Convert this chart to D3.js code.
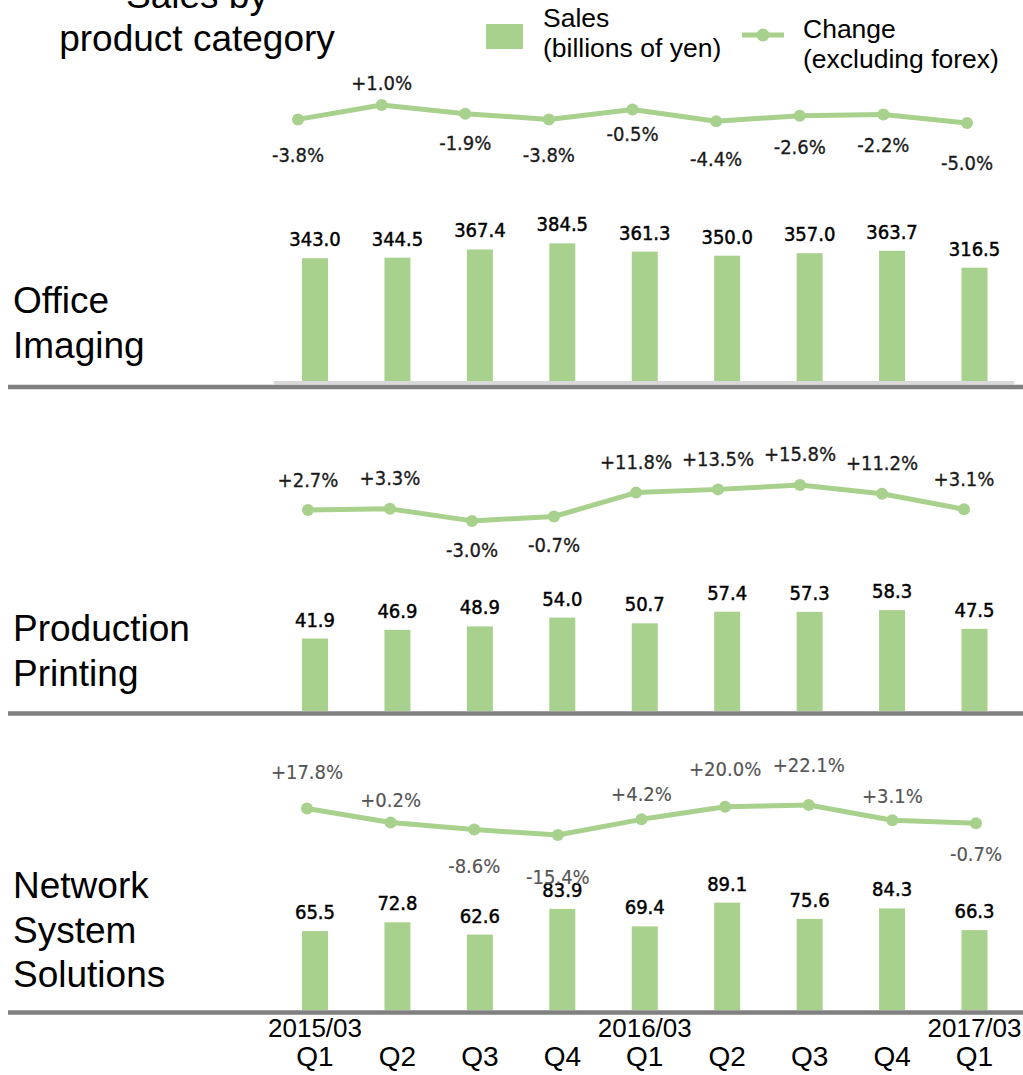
<!DOCTYPE html>
<html><head><meta charset="utf-8">
<script src="https://cdn.jsdelivr.net/npm/d3@7"></script>
<style>body{margin:0;background:#fff} svg{display:block}</style>
</head><body>
<svg id="chart" width="1023" height="1075"></svg>
<script>
// ---- data ----
const quarters = ["Q1","Q2","Q3","Q4","Q1","Q2","Q3","Q4","Q1"];
const fiscalYears = ["2015/03","","","","2016/03","","","","2017/03"];
const titleLines = ["Sales by","product category"];
const legendSales = ["Sales","(billions of yen)"];
const legendChange = ["Change","(excluding forex)"];
const officeName = ["Office","Imaging"];
const productionName = ["Production","Printing"];
const networkName = ["Network","System","Solutions"];
const officeSales = [343.0,344.5,367.4,384.5,361.3,350.0,357.0,363.7,316.5];
const officeChange = [-3.8,1.0,-1.9,-3.8,-0.5,-4.4,-2.6,-2.2,-5.0];
const productionSales = [41.9,46.9,48.9,54.0,50.7,57.4,57.3,58.3,47.5];
const productionChange = [2.7,3.3,-3.0,-0.7,11.8,13.5,15.8,11.2,3.1];
const networkSales = [65.5,72.8,62.6,83.9,69.4,89.1,75.6,84.3,66.3];
const networkChange = [17.8,0.2,-8.6,-15.4,4.2,20.0,22.1,3.1,-0.7];
const officeLabelSide = ["below","above","below","below","below","below","below","below","below"];
const productionLabelSide = ["above","above","below","below","above","above","above","above","above"];
const networkLabelSide = ["above","above","below","below","above","above","above","above","below"];

// ---- layout ----
const GREEN = "#a9d18e";
const svg = d3.select("#chart");
const idx = d3.range(quarters.length);
const xBar = d3.scalePoint().domain(idx).range([315, 974.5]);
const barW = 26;
const sansFont = "'Liberation Sans', Arial, sans-serif";
const labFont = "'DejaVu Sans Condensed', 'Liberation Sans Narrow', sans-serif";

const panels = [
  {name: officeName, sales: officeSales, change: officeChange, side: officeLabelSide,
   base: 381, barDom: 400, barTop: 381 - 400*0.358,
   lineDom: [-6, 2], lineRange: [126, 102], lineX: [298, 967],
   gapA: 12, gapB: 30, spread: 1.1, pctColor: "#1a1a1a", pctStroke: 0.3,
   nameY: 313, sepY: 387, lightSep: true},
  {name: productionName, sales: productionSales, change: productionChange, side: productionLabelSide,
   base: 711, barDom: 60, barTop: 711 - 60*1.73,
   lineDom: [-4, 16], lineRange: [522.8, 484.6], lineX: [308, 964],
   gapA: 23.5, gapB: 36, spread: 0, pctColor: "#1a1a1a", pctStroke: 0.3,
   nameY: 641, sepY: 713.5, lightSep: false},
  {name: networkName, sales: networkSales, change: networkChange, side: networkLabelSide,
   base: 1010, barDom: 100, barTop: 1010 - 100*1.205,
   lineDom: [-16, 24], lineRange: [835.5, 803.5], lineX: [307, 976],
   gapA: 15, gapB: 37, spread: 1.0, pctColor: "#555555", pctStroke: 0.15,
   nameY: 898, sepY: 1012.5, lightSep: false}
];

const fmtPct = v => (v > 0 ? "+" : "") + v.toFixed(1) + "%";

panels.forEach(p => {
  const g = svg.append("g");
  const y = d3.scaleLinear().domain([0, p.barDom]).range([p.base, p.barTop]);
  const yl = d3.scaleLinear().domain(p.lineDom).range(p.lineRange);
  const xl = d3.scalePoint().domain(idx).range(p.lineX);

  // separators
  if (p.lightSep) {
    g.append("rect").attr("x", 274).attr("y", p.base).attr("width", 740).attr("height", 3.5).attr("fill", "#d9d9d9");
  }
  g.append("line").attr("x1", 8).attr("x2", 1023).attr("y1", p.sepY).attr("y2", p.sepY)
    .attr("stroke", "#808080").attr("stroke-width", 4.5);

  // bars
  g.selectAll("rect.bar").data(p.sales).join("rect").attr("class", "bar")
    .attr("x", (d, i) => xBar(i) - barW/2).attr("width", barW)
    .attr("y", d => y(d)).attr("height", d => y(0) - y(d)).attr("fill", GREEN);
  g.selectAll("text.blab").data(p.sales).join("text").attr("class", "blab")
    .attr("x", (d, i) => xBar(i)).attr("y", d => y(d) - 12)
    .attr("text-anchor", "middle").attr("font-family", labFont).attr("font-size", 20)
    .attr("fill", "#000").attr("stroke", "#000").attr("stroke-width", 0.45)
    .text(d => d.toFixed(1));

  // line
  const line = d3.line().x((d, i) => xl(i)).y(d => yl(d));
  g.append("path").datum(p.change).attr("d", line).attr("fill", "none")
    .attr("stroke", GREEN).attr("stroke-width", 5).attr("stroke-linejoin", "round");
  g.selectAll("circle").data(p.change).join("circle")
    .attr("cx", (d, i) => xl(i)).attr("cy", d => yl(d)).attr("r", 6).attr("fill", GREEN);
  const zero = yl(0);
  g.selectAll("text.plab").data(p.change).join("text").attr("class", "plab")
    .attr("x", (d, i) => xl(i))
    .attr("y", (d, i) => {
      const py = yl(d);
      const off = p.side[i] === "above" ? -p.gapA : p.gapB;
      return py + off + p.spread * (py - zero);
    })
    .attr("text-anchor", "middle").attr("font-family", labFont).attr("font-size", 20)
    .attr("fill", p.pctColor).attr("stroke", p.pctColor).attr("stroke-width", p.pctStroke)
    .text(d => fmtPct(d));

  // category name
  g.selectAll("text.cat").data(p.name).join("text").attr("class", "cat")
    .attr("x", 13).attr("y", (d, i) => p.nameY + i*44.5)
    .attr("font-family", sansFont).attr("font-size", 37).attr("fill", "#000")
    .text(d => d);
});

// title
svg.selectAll("text.title").data(titleLines).join("text").attr("class", "title")
  .attr("x", 197).attr("y", (d, i) => 8 + i*43)
  .attr("text-anchor", "middle").attr("font-family", sansFont).attr("font-size", 37)
  .attr("fill", "#000").text(d => d);

// legend
const lg = svg.append("g");
lg.append("rect").attr("x", 486).attr("y", 24).attr("width", 37).attr("height", 25).attr("fill", GREEN);
lg.selectAll("text.ls").data(legendSales).join("text").attr("class", "ls")
  .attr("x", 543).attr("y", (d, i) => 27 + i*30)
  .attr("font-family", sansFont).attr("font-size", 26.5).attr("fill", "#000").text(d => d);
lg.append("line").attr("x1", 742).attr("x2", 784).attr("y1", 35).attr("y2", 35)
  .attr("stroke", GREEN).attr("stroke-width", 5);
lg.append("circle").attr("cx", 763).attr("cy", 35).attr("r", 6.5).attr("fill", GREEN);
lg.selectAll("text.lc").data(legendChange).join("text").attr("class", "lc")
  .attr("x", 803).attr("y", (d, i) => 38 + i*30)
  .attr("font-family", sansFont).attr("font-size", 26.5).attr("fill", "#000").text(d => d);

// x axis labels
const ax = svg.append("g");
ax.selectAll("text.fy").data(fiscalYears).join("text").attr("class", "fy")
  .attr("x", (d, i) => xBar(i)).attr("y", 1037)
  .attr("text-anchor", "middle").attr("font-family", sansFont).attr("font-size", 26)
  .attr("fill", "#000").text(d => d);
ax.selectAll("text.q").data(quarters).join("text").attr("class", "q")
  .attr("x", (d, i) => xBar(i)).attr("y", 1066)
  .attr("text-anchor", "middle").attr("font-family", sansFont).attr("font-size", 28)
  .attr("fill", "#000").text(d => d);
</script>
</body></html>
